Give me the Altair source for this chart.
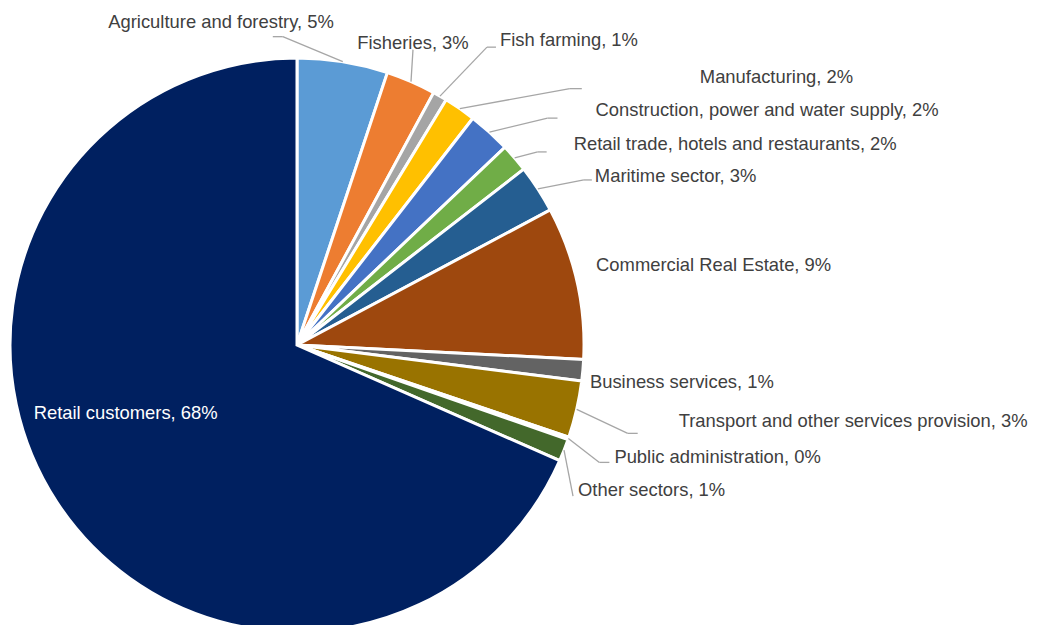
import math
import altair as alt
import pandas as pd

# ---------------- data ----------------
sectors = [
    "Agriculture and forestry",
    "Fisheries",
    "Fish farming",
    "Manufacturing",
    "Construction, power and water supply",
    "Retail trade, hotels and restaurants",
    "Maritime sector",
    "Commercial Real Estate",
    "Business services",
    "Transport and other services provision",
    "Public administration",
    "Other sectors",
    "Retail customers",
]
shares = [5.1, 2.8, 0.8, 1.8, 2.4, 1.6, 2.7, 8.6, 1.2, 3.2, 0.15, 1.25, 68.4]
shown_pct = [5, 3, 1, 2, 2, 2, 3, 9, 1, 3, 0, 1, 68]

colors = [
    "#5B9BD5", "#ED7D31", "#A5A5A5", "#FFC000", "#4472C4", "#70AD47",
    "#255E91", "#9E480E", "#636363", "#997300", "#264478", "#43682B",
    "#002060",
]

# ---------------- layout (label offsets relative to slice edge) ----------------
CX, CY, R = 289, 337, 287
text_dx = [-9, 2, 60, 240, 106, 59, 57, 19, 7, 102, 46, 14, -23]
text_dy = [-40, -39, -56, -32, -22, -14, -13, -17, 12, 12, 19, 40, -89]
text_align = ["right", "center", "left", "left", "left", "left", "left",
              "left", "left", "left", "left", "left", "left"]
elbow_dx = [-60, 2, 47, 110, 58, 23, 46, None, None, 51, 31, 9, None]
elbow_dy = [-25, -32, -49, -20, -14, -6, -9, None, None, 24, 24, 46, None]
tail_len = [-10, 0, 9, 12, 10, 9, 8, None, None, 10, 10, 0, None]
text_col = ["#404040"] * 12 + ["#FFFFFF"]

# ---------------- derived tables ----------------
total = sum(shares)
rows = []
segs = []
cum = 0.0
for i, (s, v) in enumerate(zip(sectors, shares)):
    mid = (cum + v / 2) / total * 2 * math.pi
    cum += v
    ex = CX + R * math.sin(mid)
    ey = CY - R * math.cos(mid)
    rows.append({
        "idx": i,
        "sector": s,
        "value": v,
        "label": f"{s}, {shown_pct[i]}%",
        "tx": ex + text_dx[i],
        "ty": ey + text_dy[i],
        "align": text_align[i],
        "tcol": text_col[i],
    })
    if elbow_dx[i] is not None:
        bx = ex + elbow_dx[i]
        by = ey + elbow_dy[i]
        segs.append({"x": ex, "y": ey, "x2": bx, "y2": by})
        if tail_len[i]:
            segs.append({"x": bx, "y": by, "x2": bx + tail_len[i], "y2": by})

df = pd.DataFrame(rows)
seg_df = pd.DataFrame(segs)

base = alt.Chart(df)

pie = base.mark_arc(radius=R, stroke="white", strokeWidth=3).encode(
    theta=alt.Theta("value:Q", stack=True),
    color=alt.Color("sector:N", scale=alt.Scale(domain=sectors, range=colors), legend=None),
    order=alt.Order("idx:Q"),
    x=alt.value(CX),
    y=alt.value(CY),
)

leaders = alt.Chart(seg_df).mark_rule(color="#A6A6A6", strokeWidth=1.3).encode(
    x=alt.X("x:Q", scale=None),
    y=alt.Y("y:Q", scale=None),
    x2="x2:Q",
    y2="y2:Q",
)

text_layers = []
for a in ["left", "center", "right"]:
    text_layers.append(
        base.transform_filter(alt.datum.align == a)
        .mark_text(align=a, baseline="middle", fontSize=18.4, font="Liberation Sans")
        .encode(
            x=alt.X("tx:Q", scale=None),
            y=alt.Y("ty:Q", scale=None),
            text="label:N",
            color=alt.Color("tcol:N", scale=None),
        )
    )

chart = (
    alt.layer(pie, leaders, *text_layers)
    .properties(
        width=1022,
        height=617,
        padding=0,
        autosize=alt.AutoSizeParams(type="none"),
        background="white",
    )
    .configure_view(stroke=None)
)

chart.save("out.html", embed_options={"renderer": "svg", "actions": False})
